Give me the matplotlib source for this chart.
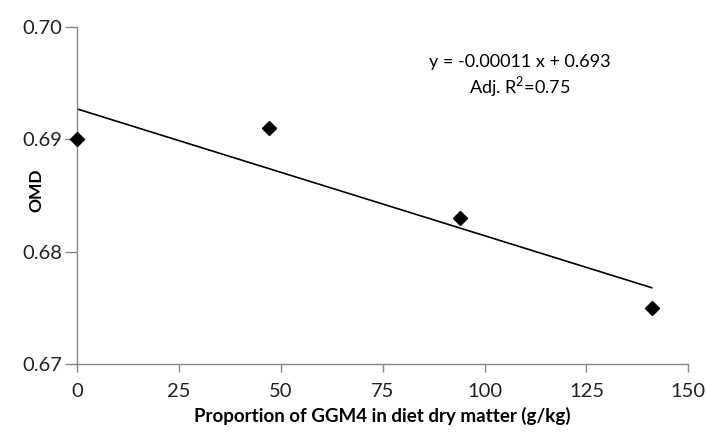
import numpy as np
import matplotlib
matplotlib.use("Agg")
import matplotlib.pyplot as plt

# data
ggm4 = [0, 47, 94, 141]            # g/kg in diet dry matter
omd = [0.690, 0.691, 0.683, 0.675]

x_ticks = [0, 25, 50, 75, 100, 125, 150]
y_ticks = [0.67, 0.68, 0.69, 0.70]
eq_text = "y = -0.00011 x + 0.693"
r2_text = "Adj. R$^2$=0.75"

plt.rcParams["font.family"] = ["Lato", "DejaVu Sans"]
plt.rcParams["mathtext.fontset"] = "custom"
plt.rcParams["mathtext.rm"] = "Lato"
grey = "#868686"

fig = plt.figure(figsize=(7.06, 4.32), dpi=100)
ax = fig.add_axes([0.109, 0.157, 0.866, 0.781])

# linear trend over the data range
slope, icpt = np.polyfit(ggm4, omd, 1)
xl = np.array([ggm4[0], ggm4[-1]])
ax.plot(xl, slope * xl + icpt, color="black", lw=1.2, zorder=2)
ax.plot(ggm4, omd, ls="none", marker="D", ms=7.2, color="black",
        clip_on=False, zorder=3)

ax.set_xlim(0, 150)
ax.set_ylim(0.67, 0.70)
ax.set_xticks(x_ticks)
ax.set_yticks(y_ticks)
ax.set_yticklabels([f"{v:.2f}" for v in y_ticks])

for s in ("top", "right"):
    ax.spines[s].set_visible(False)
for s in ("left", "bottom"):
    ax.spines[s].set_color(grey)
    ax.spines[s].set_linewidth(1.0)
ax.tick_params(axis="both", direction="out", width=1.0,
               color=grey, labelsize=14.5, labelcolor="#222222")
ax.tick_params(axis="x", length=5.5, pad=8)
ax.tick_params(axis="y", length=8.5, pad=2)

ax.set_xlabel("Proportion of GGM4 in diet dry matter (g/kg)",
              fontsize=13.5, fontweight="bold")
ax.xaxis.set_label_coords(0.5, -0.128)
ax.set_ylabel("OMD", fontsize=12.5, fontweight="bold")
ax.yaxis.set_label_coords(-0.054, 0.515)

ax.text(0.725, 0.896, eq_text, transform=ax.transAxes, ha="center",
        va="center", fontsize=13)
ax.text(0.725, 0.822, r2_text, transform=ax.transAxes, ha="center",
        va="center", fontsize=13)

fig.savefig("out.png", dpi=100)
